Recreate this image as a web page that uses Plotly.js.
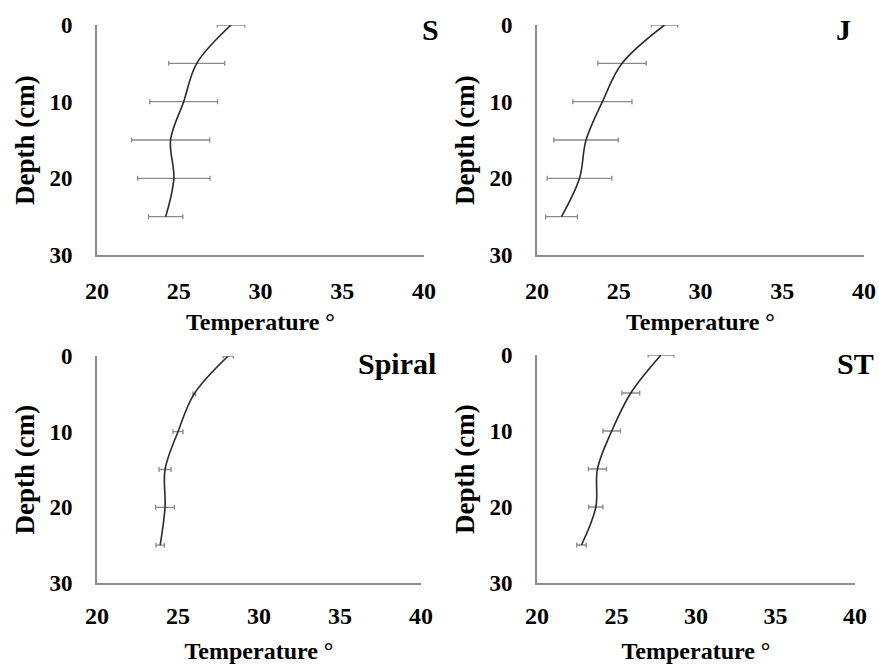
<!DOCTYPE html>
<html>
<head>
<meta charset="utf-8">
<script src="https://cdn.plot.ly/plotly-3.0.1.min.js"></script>
<style>html,body{margin:0;padding:0;background:#fff;}#chart{width:879px;height:668px;}</style>
</head>
<body>
<div id="chart"></div>
<script>
// Depth levels (cm)
const depth = [0, 5, 10, 15, 20, 25];
// Panel names
const panelNames = ["S", "J", "Spiral", "ST"];
// Mean temperatures per panel
const tempS = [28.2, 26.1, 25.3, 24.5, 24.7, 24.2];
const tempJ = [27.8, 25.2, 24.0, 23.0, 22.6, 21.5];
const tempSpiral = [28.1, 26.0, 25.0, 24.2, 24.2, 23.9];
const tempST = [27.8, 25.9, 24.7, 23.8, 23.7, 22.8];
// Error (± half-width)
const errS = [0.84, 1.71, 2.07, 2.39, 2.21, 1.05];
const errJ = [0.8, 1.48, 1.81, 1.97, 1.98, 0.97];
const errSpiral = [0.31, 0.08, 0.31, 0.37, 0.58, 0.26];
const errST = [0.81, 0.56, 0.55, 0.57, 0.45, 0.3];
// Tick labels
const xTicks = [20, 25, 30, 35, 40];
const yTicks = [0, 10, 20, 30];
// Axis titles
const xTitle = "Temperature °";
const yTitle = "Depth (cm)";

const temps = [tempS, tempJ, tempSpiral, tempST];
const errs = [errS, errJ, errSpiral, errST];

const W = 879, H = 668;
// pixel boxes for plot areas [left, right, top, bottom]
const boxes = [
  [97, 424, 25, 255],
  [537, 864, 25, 255],
  [97, 421, 356, 583],
  [537, 855, 355, 583]
];
const font = "Liberation Serif, Times New Roman, serif";

const traces = [];
const layout = {
  width: W, height: H,
  margin: {l: 0, r: 0, t: 0, b: 0},
  paper_bgcolor: "#fff", plot_bgcolor: "#fff",
  showlegend: false,
  font: {family: font, color: "#000"},
  annotations: []
};

const labelPos = [[430, 30], [843, 30], [397, 363], [855, 363]];
const yTitleX = [25, 465, 25, 465];

for (let i = 0; i < 4; i++) {
  const n = i + 1;
  const xa = "x" + (n === 1 ? "" : n), ya = "y" + (n === 1 ? "" : n);
  traces.push({
    type: "scatter", mode: "lines",
    x: temps[i], y: depth,
    xaxis: xa, yaxis: ya,
    line: {color: "#2a2a2a", width: 1.6, shape: "spline", smoothing: 1},
    error_x: {type: "data", array: errs[i], visible: true, color: "#8a8a8a", thickness: 1.3, width: 2.5},
    cliponaxis: false,
    hoverinfo: "skip"
  });
  const b = boxes[i];
  const xk = "xaxis" + (n === 1 ? "" : n), yk = "yaxis" + (n === 1 ? "" : n);
  layout[xk] = {
    domain: [b[0] / W, b[1] / W],
    anchor: ya,
    range: [20, 40],
    tickvals: xTicks, ticktext: xTicks.map(String),
    showgrid: false, zeroline: false,
    showline: true, linecolor: "#8c8c8c", linewidth: 2,
    ticks: "", ticklabelstandoff: i < 2 ? 13 : 10,
    tickfont: {family: font, size: 24, color: "#000", weight: "bold"},
    title: {text: "<b>" + xTitle + "</b>", font: {family: font, size: 24, color: "#000"}, standoff: i < 2 ? 10 : 14},
    fixedrange: true
  };
  layout[yk] = {
    domain: [(H - b[3]) / H, (H - b[2]) / H],
    anchor: xa,
    range: [30, 0],
    tickvals: yTicks, ticktext: yTicks.map(String),
    showgrid: false, zeroline: false,
    showline: true, linecolor: "#8c8c8c", linewidth: 2,
    ticks: "", ticklabelstandoff: 18,
    tickfont: {family: font, size: 23, color: "#000", weight: "bold"},
    fixedrange: true
  };
  layout.annotations.push({
    xref: "paper", yref: "paper",
    x: yTitleX[i] / W, y: 1 - ((b[2] + b[3]) / 2) / H,
    xanchor: "center", yanchor: "middle",
    text: "<b>" + yTitle + "</b>", textangle: -90,
    showarrow: false,
    font: {family: font, size: 27, color: "#000"}
  });
  layout.annotations.push({
    xref: "paper", yref: "paper",
    x: labelPos[i][0] / W, y: 1 - labelPos[i][1] / H,
    xanchor: "center", yanchor: "middle",
    text: "<b>" + panelNames[i] + "</b>",
    showarrow: false,
    font: {family: font, size: 30, color: "#000"}
  });
}

Plotly.newPlot("chart", traces, layout, {displayModeBar: false, staticPlot: true});
</script>
</body>
</html>
